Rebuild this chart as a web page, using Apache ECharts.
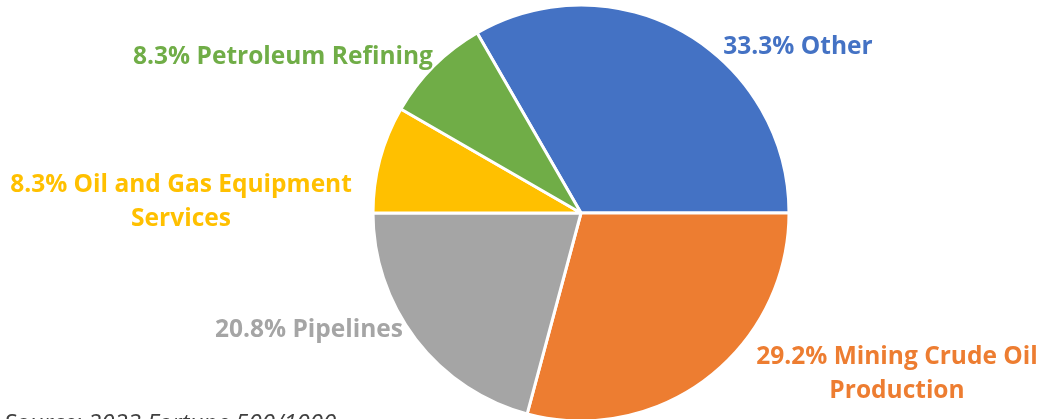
<!DOCTYPE html>
<html>
<head>
<meta charset="utf-8">
<script src="https://cdn.jsdelivr.net/npm/echarts@6/dist/echarts.min.js"></script>
<style>
  html, body { margin: 0; padding: 0; background: #fff; }
  #chart { width: 1043px; height: 419px; }
</style>
</head>
<body>
<div id="chart"></div>
<script>
// companies per sector (out of 24)
const sectors = ['Other', 'Mining Crude Oil\nProduction', 'Pipelines', 'Oil and Gas Equipment\nServices', 'Petroleum Refining']
const counts = [8, 7, 5, 2, 2]
const colors = ['#4472C4', '#ED7D31', '#A5A5A5', '#FFC000', '#70AD47']

// where each label sits (centre of text block)
const labelPos = [
  { x: 798, y: 47 },
  { x: 897, y: 374 },
  { x: 309, y: 330 },
  { x: 181, y: 202 },
  { x: 283, y: 57 }
]

const total = counts.reduce((a, b) => a + b, 0)

const chart = echarts.init(document.getElementById('chart'))

chart.setOption({
  animation: false,
  graphic: [{
    type: 'text',
    left: 4,
    top: 412,
    style: {
      text: 'Source: 2023 Fortune 500/1000',
      font: 'italic 24px "Open Sans", sans-serif',
      fill: '#404040'
    }
  }],
  series: [{
    type: 'pie',
    center: [581, 213],
    radius: 208,
    startAngle: 120,
    clockwise: true,
    data: sectors.map((name, i) => ({
      name,
      value: counts[i],
      itemStyle: { color: colors[i] },
      label: { color: colors[i] }
    })),
    itemStyle: { borderColor: '#fff', borderWidth: 3 },
    label: {
      show: true,
      position: 'outside',
      formatter: (p) => (p.value / total * 100).toFixed(1) + '% ' + p.name,
      fontFamily: '"Open Sans", sans-serif',
      fontWeight: 'bold',
      fontSize: 24.5,
      lineHeight: 34,
      align: 'center',
      overflow: 'none',
      width: 400
    },
    labelLine: { show: false },
    labelLayout: (params) => ({
      x: labelPos[params.dataIndex].x,
      y: labelPos[params.dataIndex].y,
      align: 'center',
      verticalAlign: 'middle'
    })
  }]
})
</script>
</body>
</html>
